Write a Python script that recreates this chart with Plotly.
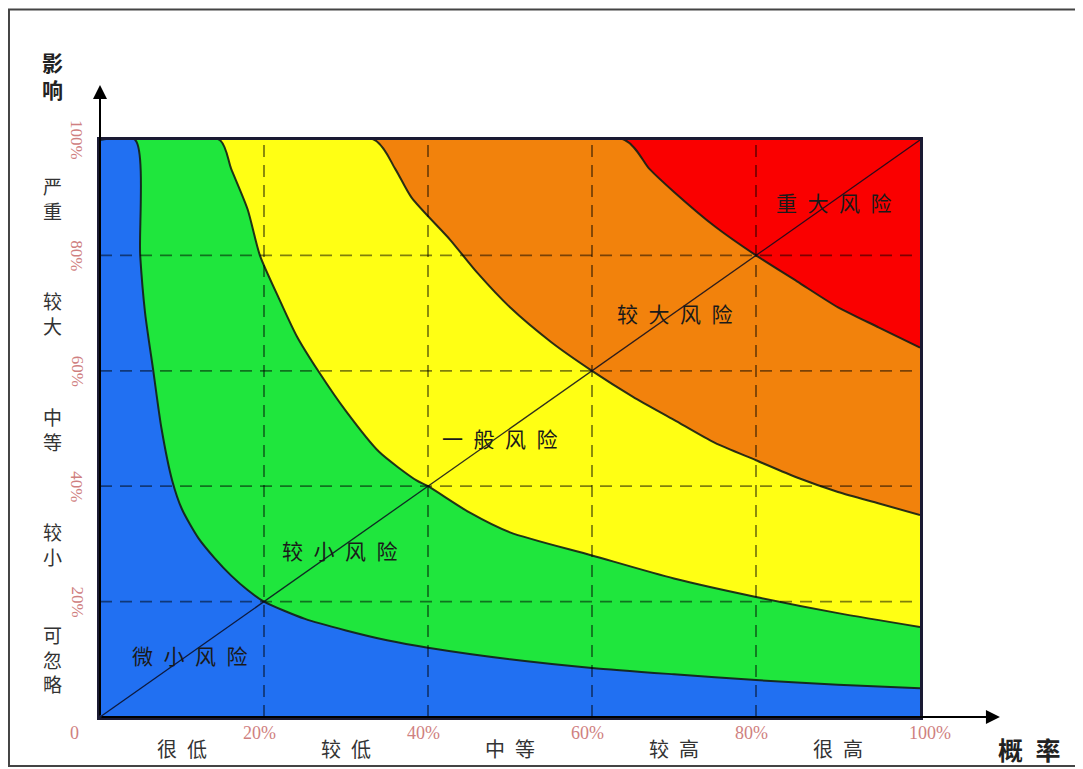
import plotly.graph_objects as go

# Boundary curves (probability %, impact %)
blue_green_x = [4.3, 4.9, 5.5, 6.5, 7.5, 8.8, 10, 12, 14, 16, 18, 20, 25, 30, 35, 40, 50, 60, 70, 80, 90, 100]
blue_green_y = [100, 80, 70, 60, 50, 41, 36, 31, 27.5, 24.5, 22, 20, 17, 15, 13.3, 12, 10, 8.5, 7.4, 6.4, 5.6, 5]

green_yellow_x = [14.6, 16, 18, 19.5, 22, 24, 26.6, 30, 34, 38.6, 40, 45, 50, 60, 70, 80, 90, 100]
green_yellow_y = [100, 95, 88, 80, 72, 66, 60, 53, 46, 41, 40, 35.5, 32, 28, 24, 20.8, 18, 15.6]

yellow_orange_x = [33.5, 36, 38, 42.7, 46, 50, 55, 60, 65, 70, 75, 80, 85, 90, 95, 100]
yellow_orange_y = [100, 95, 90, 82.7, 77, 71, 65, 60, 55.5, 51.5, 47.5, 44.5, 41.5, 39, 37, 35]

orange_red_x = [64, 67, 70, 75, 80, 85, 90, 95, 100]
orange_red_y = [100, 95, 91, 85, 80, 75.5, 71, 67.5, 64]

grid_ticks = [20, 40, 60, 80]
tick_values = [20, 40, 60, 80, 100]
x_tick_labels = ["20%", "40%", "60%", "80%", "100%"]
y_tick_labels = ["20%", "40%", "60%", "80%", "100%"]
x_categories = ["很低", "较低", "中等", "较高", "很高"]
y_categories = ["可忽略", "较小", "中等", "较大", "严重"]
category_centers = [10, 30, 50, 70, 90]
region_names = ["微小风险", "较小风险", "一般风险", "较大风险", "重大风险"]
region_x = [11, 29.3, 48.8, 70.1, 89.5]
region_y = [10.7, 29, 48.3, 70, 89.3]

BLUE = "#2170f2"
GREEN = "#1fe63d"
YELLOW = "#ffff14"
ORANGE = "#f2820c"
RED = "#fa0000"

ENSP = "\u2002"

fig = go.Figure()

layers = [
    (orange_red_x, orange_red_y, ORANGE),
    (yellow_orange_x, yellow_orange_y, YELLOW),
    (green_yellow_x, green_yellow_y, GREEN),
    (blue_green_x, blue_green_y, BLUE),
]
for bx, by, col in layers:
    fig.add_trace(go.Scatter(
        x=[0] + bx, y=[100] + by, mode="lines", fill="tozeroy",
        fillcolor=col, line=dict(color="rgba(20,30,20,0.9)", width=2, shape="spline", smoothing=0.7),
        hoverinfo="skip", showlegend=False, cliponaxis=True))

dash = "12px,8px"
shapes = []
for t in grid_ticks:
    shapes.append(dict(type="line", xref="x", yref="y", x0=t, x1=t, y0=0, y1=100,
                       line=dict(color="rgba(0,0,0,0.5)", width=1.8, dash=dash), layer="above"))
    shapes.append(dict(type="line", xref="x", yref="y", x0=0, x1=100, y0=t, y1=t,
                       line=dict(color="rgba(0,0,0,0.5)", width=1.8, dash=dash), layer="above"))
shapes.append(dict(type="line", xref="x", yref="y", x0=0, y0=0, x1=100, y1=100,
                   line=dict(color="rgba(10,10,30,0.85)", width=1.3), layer="above"))
# outer frame of the image
shapes.append(dict(type="rect", xref="paper", yref="paper", x0=-0.111, x1=1.3, y0=-0.0849, y1=1.226,
                   line=dict(color="#444", width=2), layer="below"))

C = dict(xanchor="center", yanchor="middle", showarrow=False)
ann = []
tick_font = dict(family="Liberation Serif, serif", size=18, color="#cf8080")
cjk = "Noto Sans CJK SC, sans-serif"
# x tick labels
ann.append(dict(xref="paper", yref="paper", x=-0.031, y=-0.028, text="0", font=tick_font, **C))
for v, lab in zip(tick_values, x_tick_labels):
    ann.append(dict(xref="paper", yref="paper", x=v / 100 + (0.012 if v == 100 else -0.006), y=-0.028,
                    text=lab, font=tick_font, **C))
# y tick labels (rotated)
for v, lab in zip(tick_values, y_tick_labels):
    ann.append(dict(xref="paper", yref="paper", x=-0.028, y=v / 100, text=lab, textangle=90,
                    font=dict(family="Liberation Serif, serif", size=17, color="#cf8080"), **C))
# category labels
for c, lab in zip(category_centers, x_categories):
    ann.append(dict(xref="paper", yref="paper", x=c / 100, y=-0.055, text=ENSP.join(lab),
                    font=dict(family=cjk, size=20, color="#333"), **C))
for c, lab in zip(category_centers, y_categories):
    ann.append(dict(xref="paper", yref="paper", x=-0.0585, y=c / 100, text="<br>".join(lab),
                    font=dict(family=cjk, size=19, color="#333"), **C))
# region labels
for rx, ry, name in zip(region_x, region_y, region_names):
    ann.append(dict(xref="x", yref="y", x=rx, y=ry, text=ENSP.join(name),
                    font=dict(family=cjk, size=21, color="#1a1a1a"), **C))
# axis titles
ann.append(dict(xref="paper", yref="paper", x=-0.0585, y=1.112, text="影<br>响",
                font=dict(family=cjk, size=21, color="#222", weight="bold"), **C))
ann.append(dict(xref="paper", yref="paper", x=1.134, y=-0.055, text="概" + ENSP + "率",
                font=dict(family=cjk, size=25, color="#222", weight="bold"), **C))
# axis arrows
ann.append(dict(xref="paper", yref="paper", x=1.0975, y=0, ax=-900, ay=0, text="", showarrow=True,
                arrowhead=2, arrowsize=1.4, arrowwidth=2, arrowcolor="#000"))
ann.append(dict(xref="paper", yref="paper", x=0, y=1.0953, ax=0, ay=632, text="", showarrow=True,
                arrowhead=2, arrowsize=1.4, arrowwidth=2, arrowcolor="#000"))

fig.update_layout(
    width=1075, height=761,
    margin=dict(l=92, r=163, t=132, b=52),
    paper_bgcolor="white", plot_bgcolor=RED,
    shapes=shapes, annotations=ann, showlegend=False,
    xaxis=dict(range=[0, 100], showgrid=False, zeroline=False, showticklabels=False, ticks="",
               showline=True, mirror=True, linecolor="#1a1a33", linewidth=2.5, fixedrange=True),
    yaxis=dict(range=[0, 100], showgrid=False, zeroline=False, showticklabels=False, ticks="",
               showline=True, mirror=True, linecolor="#1a1a33", linewidth=2.5, fixedrange=True),
)

fig.write_html("out.html")
